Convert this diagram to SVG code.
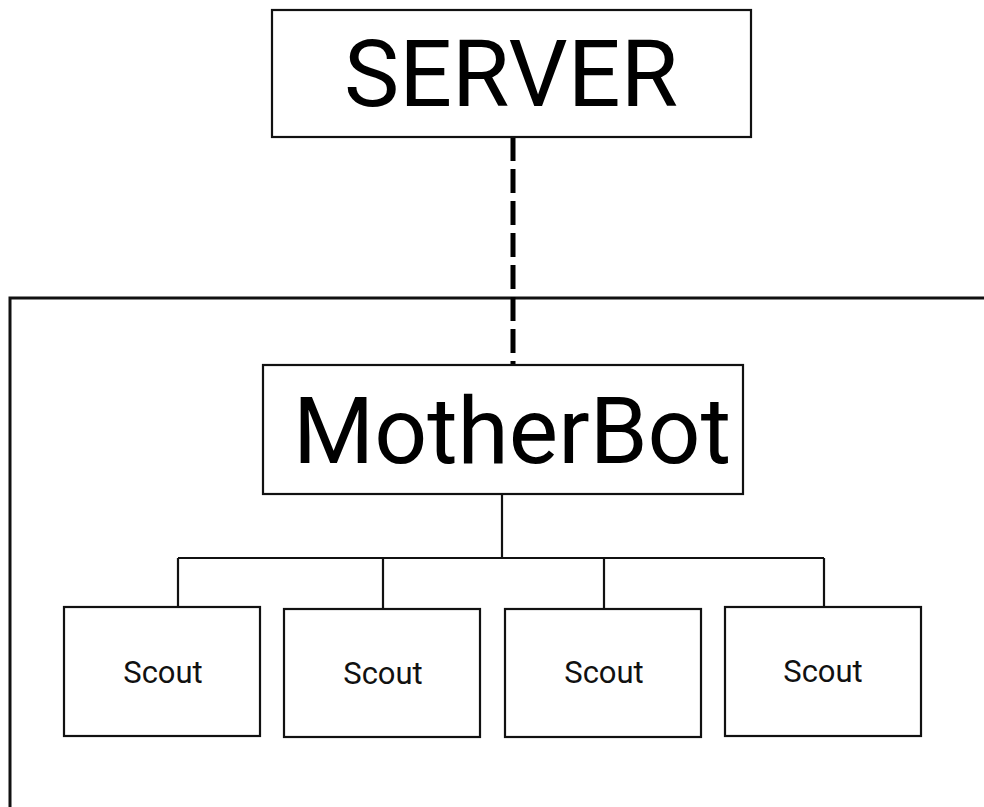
<svg xmlns="http://www.w3.org/2000/svg" width="984" height="807" viewBox="0 0 984 807">
  <style>
    .box { fill: #fff; stroke: #111; stroke-width: 2.2; }
    .wire { fill: none; stroke: #111; stroke-width: 2.2; }
    .frame { fill: none; stroke: #111; stroke-width: 3; }
    .dash { fill: none; stroke: #000; stroke-width: 5; stroke-dasharray: 24 8; }
    .big { font-family: Roboto, "Liberation Sans", sans-serif; font-size: 93px; fill: #000; text-anchor: middle; }
    .small { font-family: Roboto, "Liberation Sans", sans-serif; font-size: 31px; fill: #111; text-anchor: middle; }
  </style>
  <rect width="984" height="807" fill="#fff"/>

  <!-- network frame -->
  <path class="frame" d="M10,807 V298 H984"/>

  <g id="connectors">
    <path class="dash" d="M513,137 V365"/>
    <path class="wire" d="M502,494 V558 M178,558 H824 M178,558 V607 M383,558 V609 M604,558 V609 M824,558 V607"/>
  </g>

  <g id="server">
    <rect class="box" x="272" y="10" width="479" height="127"/>
    <text class="big" x="511" y="106">SERVER</text>
  </g>

  <g id="motherbot">
    <rect class="box" x="263" y="365" width="480" height="129"/>
    <text class="big" x="512" y="463">MotherBot</text>
  </g>

  <g id="scout1">
    <rect class="box" x="64" y="607" width="196" height="129"/>
    <text class="small" x="163" y="683">Scout</text>
  </g>
  <g id="scout2">
    <rect class="box" x="284" y="609" width="196" height="128"/>
    <text class="small" x="383" y="684">Scout</text>
  </g>
  <g id="scout3">
    <rect class="box" x="505" y="609" width="196" height="128"/>
    <text class="small" x="604" y="683">Scout</text>
  </g>
  <g id="scout4">
    <rect class="box" x="725" y="607" width="196" height="129"/>
    <text class="small" x="823" y="682">Scout</text>
  </g>
</svg>
